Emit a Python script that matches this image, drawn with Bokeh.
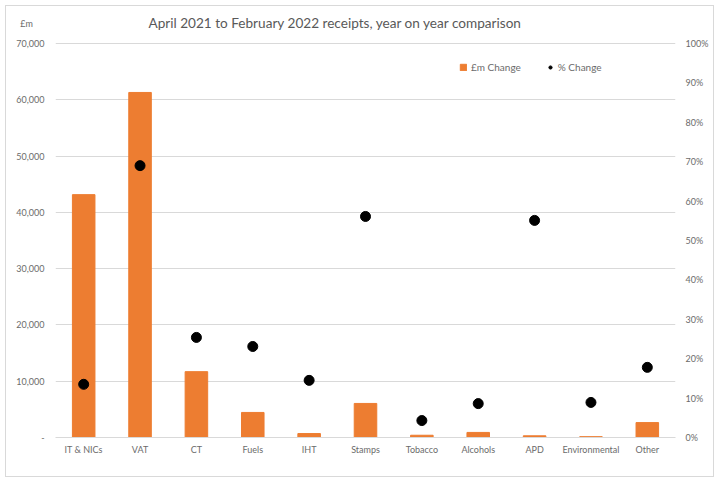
from bokeh.plotting import figure
from bokeh.models import (Range1d, LinearAxis, ColumnDataSource, Label, Legend, LegendItem,
                          NumeralTickFormatter, FixedTicker)
from bokeh.embed import file_html
from bokeh.resources import INLINE

categories = ["IT & NICs", "VAT", "CT", "Fuels", "IHT", "Stamps", "Tobacco", "Alcohols", "APD", "Environmental", "Other"]
gbp_change = [43150, 61300, 11700, 4450, 700, 6050, 400, 900, 300, 150, 2650]
pct_change = [0.135, 0.69, 0.254, 0.231, 0.145, 0.561, 0.043, 0.086, 0.551, 0.089, 0.178]
left_ticks = [0, 10000, 20000, 30000, 40000, 50000, 60000, 70000]
right_ticks = [0.0, 0.1, 0.2, 0.3, 0.4, 0.5, 0.6, 0.7, 0.8, 0.9, 1.0]
title_text = "April 2021 to February 2022 receipts, year on year comparison"
unit_text = "£m"

FONT = "Lato"
GREY = "#595959"
TICK_GREY = "#6b6b6b"
LSIZE = "9px"

# layout (pixels)
W, H = 709, 472
BL, BR, BT, BB = 49, 40, 2, 41
frame_h = H - BT - BB
grid_h = 394                      # pixels from 0 to the top gridline
YMAX = left_ticks[-1]
y_top = YMAX * frame_h / grid_h   # range extends above the top gridline to hold the title row
unit_pos = YMAX * 414 / grid_h    # where the unit label sits

src = ColumnDataSource(dict(cat=categories, gbp=gbp_change, pct=pct_change))

p = figure(x_range=categories, y_range=Range1d(0, y_top), width=W, height=H,
           output_backend="svg", toolbar_location=None,
           min_border_left=BL, min_border_right=BR, min_border_top=BT, min_border_bottom=BB)
p.styles = {"margin-left": "5px", "margin-top": "5px", "border": "1px solid #d9d9d9"}
p.outline_line_color = None
p.border_fill_color = "white"
p.extra_y_ranges = {"pct": Range1d(0, y_top / YMAX)}

bars = p.vbar(x="cat", top="gbp", width=0.4, source=src, color="#ED7D31")
dots = p.scatter(x="cat", y="pct", source=src, y_range_name="pct", size=10, color="black")

ax1 = p.yaxis[0]
ax1.ticker = FixedTicker(ticks=left_ticks + [unit_pos])
ax1.formatter = NumeralTickFormatter(format="0,0")
ax1.major_label_overrides = {0: "-", unit_pos: unit_text + "\u00a0" * 5}
ax1.axis_line_color = None
ax1.major_tick_line_color = None
ax1.minor_tick_line_color = None
ax1.major_label_text_font = FONT
ax1.major_label_text_font_size = LSIZE
ax1.major_label_text_color = TICK_GREY
ax1.major_label_standoff = 5

ax2 = LinearAxis(y_range_name="pct", ticker=FixedTicker(ticks=right_ticks),
                 formatter=NumeralTickFormatter(format="0%"))
ax2.axis_line_color = None
ax2.major_tick_line_color = None
ax2.minor_tick_line_color = None
ax2.major_label_text_font = FONT
ax2.major_label_text_font_size = LSIZE
ax2.major_label_text_color = TICK_GREY
ax2.major_label_standoff = 4
p.add_layout(ax2, "right")

p.xaxis.axis_line_color = "#d9d9d9"
p.xaxis.major_tick_line_color = None
p.xaxis.minor_tick_line_color = None
p.xaxis.major_label_text_font = FONT
p.xaxis.major_label_text_font_size = LSIZE
p.xaxis.major_label_text_color = TICK_GREY
p.xaxis.major_label_standoff = 0

p.xgrid.grid_line_color = None
p.ygrid.grid_line_color = "#d9d9d9"
p.ygrid.ticker = FixedTicker(ticks=left_ticks)

legend = Legend(items=[LegendItem(label="£m Change", renderers=[bars]),
                       LegendItem(label="% Change", renderers=[dots])],
                orientation="horizontal", location=(404, 364),
                border_line_color=None, background_fill_alpha=0,
                label_text_font=FONT, label_text_font_size="10px", label_text_color=TICK_GREY,
                glyph_width=8, glyph_height=8, spacing=25, label_standoff=4)
p.add_layout(legend)

title = Label(x=280, y=415, x_units="screen", y_units="screen", text=title_text,
              text_align="center", text_baseline="middle",
              text_font=FONT, text_font_size="13.6px", text_color=GREY)
p.add_layout(title)

open("out.html", "w").write(file_html(p, INLINE))
